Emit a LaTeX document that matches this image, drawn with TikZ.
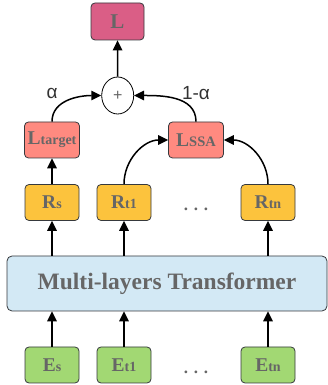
\documentclass[tikz,border=0pt]{standalone}
\usepackage{fontspec}
\setmainfont{Liberation Serif}
\newfontfamily\lblfont{Liberation Sans}
\usetikzlibrary{arrows.meta,shapes.geometric}
\definecolor{txtgray}{HTML}{666666}
\definecolor{edgegray}{HTML}{36393D}
\definecolor{lpink}{HTML}{DA5E86}
\definecolor{salmon}{HTML}{FF8A80}
\definecolor{ryellow}{HTML}{FCC33D}
\definecolor{egreen}{HTML}{A2D873}
\definecolor{tblue}{HTML}{D3E9F5}
\newcommand{\mainlt}[1]{{\fontsize{19.5}{19.5}\selectfont #1}}
\newcommand{\sublt}[1]{{\fontsize{14}{14}\selectfont #1}}
\begin{document}
\begin{tikzpicture}[x=1pt,y=1pt,
  box/.style={draw=edgegray, line width=0.8pt, rounded corners=4pt, minimum width=54pt, minimum height=36pt, inner sep=0pt, text=txtgray, font=\bfseries},
  arr/.style={line width=1.5pt, -{Triangle[length=10pt,width=9.5pt]}},
  dots/.style={text=txtgray, font=\bfseries\fontsize{17}{17}\selectfont, inner sep=0pt},
  lbl/.style={text=black!80, font=\lblfont\fontsize{19}{19}\selectfont, inner sep=0pt}]
\useasboundingbox (0,0) rectangle (328,385);
% nodes
\node[box, fill=lpink, minimum width=53pt, minimum height=37pt] (L) at (117.5,363.5) {\fontsize{21}{21}\selectfont L};
\node[ellipse, draw=black, line width=0.8pt, fill=white, minimum width=32pt, minimum height=37pt, inner sep=0pt, text=txtgray, font=\lblfont\fontsize{16}{16}\selectfont] (plus) at (117.7,289.5) {+};
\node[box, fill=salmon, minimum width=55pt] (Lt) at (52,245) {\mainlt{L}\sublt{target}};
\node[box, fill=salmon, minimum width=55pt] (Ls) at (196,245) {\mainlt{L}{\fontsize{14.5}{14.5}\selectfont SSA}};
\node[box, fill=ryellow] (Rs) at (52,182.5) {\mainlt{R}\sublt{s}};
\node[box, fill=ryellow] (Rt1) at (124,182.5) {\mainlt{R}\sublt{t1}};
\node[box, fill=ryellow] (Rtn) at (268,182.5) {\mainlt{R}\sublt{tn}};
\node[dots] (d1) at (196,176) {. . .};
\node[box, fill=tblue, minimum width=320pt, minimum height=55pt, rounded corners=5pt, font=\bfseries\fontsize{23.5}{23.5}\selectfont] (T) at (167,101.5) {Multi-layers Transformer};
\node[box, fill=egreen] (Es) at (52,20) {\mainlt{E}\sublt{s}};
\node[box, fill=egreen] (Et1) at (124,20) {\mainlt{E}\sublt{t1}};
\node[box, fill=egreen] (Etn) at (268,20) {\mainlt{E}\sublt{tn}};
\node[dots] (d2) at (196,13) {. . .};
% labels
\node[lbl] (alpha) at (52,292) {α};
\node[lbl] (oma) at (196,292) {1-α};
% arrows
\draw[arr] (Es.north) -- (Es.north |- T.south);
\draw[arr] (Et1.north) -- (Et1.north |- T.south);
\draw[arr] (Etn.north) -- (Etn.north |- T.south);
\draw[arr] (Rs.south |- T.north) -- (Rs.south);
\draw[arr] (Rt1.south |- T.north) -- (Rt1.south);
\draw[arr] (Rtn.south |- T.north) -- (Rtn.south);
\draw[arr] (Rs.north) -- (Lt.south);
\draw[arr] (Rt1.north) to[out=90,in=180] (Ls.west);
\draw[arr] (Rtn.north) to[out=90,in=0] (Ls.east);
\draw[arr] (Lt.north) to[out=90,in=180] (plus.west);
\draw[arr] (Ls.north) to[out=90,in=0] (plus.east);
\draw[arr] (plus.north) -- (L.south);
\end{tikzpicture}
\end{document}
